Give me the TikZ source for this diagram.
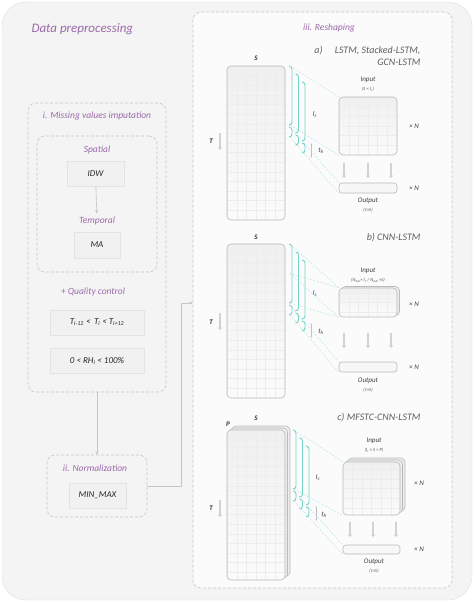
\documentclass[tikz,border=0pt]{standalone}
\usepackage{fontspec}
\setmainfont{Carlito}
\usepackage{xcolor}
\usepackage{tikz}
\definecolor{prepurple}{RGB}{155, 105, 170}
\definecolor{preteal}{RGB}{115, 210, 200}
\definecolor{pregray}{RGB}{95, 95, 95}
\usetikzlibrary{arrows.meta,positioning,calc,shadows}

\begin{document}
\begin{tikzpicture}[x=1pt, y=-1pt, every node/.style={font=\itshape}]
    % Define styles
    \tikzstyle{title} = [text=prepurple, font=\fontsize{9.5}{11}\selectfont\itshape]
    \tikzstyle{frame} = [rectangle, draw=gray!45, dash pattern=on 3pt off 2pt, rounded corners=8pt, line width=0.6pt]
    \tikzstyle{method} = [rectangle, draw=gray!22, fill=gray!11, inner sep=0pt, text=black!85,
                          font=\fontsize{9}{11}\selectfont\itshape,
                          drop shadow={opacity=0.12, shadow xshift=0.8pt, shadow yshift=-0.8pt}]
    \tikzstyle{grid box} = [rectangle, draw=gray!55, top color=gray!12, bottom color=gray!3, rounded corners=4pt,
                            inner sep=0pt, line width=0.6pt,
                            path picture={\draw[gray!14, line width=0.3pt, step=9.6pt]
                            (path picture bounding box.south west) grid (path picture bounding box.north east);}]
    \tikzstyle{layer box} = [rectangle, draw=gray!55, fill=gray!14, rounded corners=4pt, inner sep=0pt, line width=0.6pt]
    \tikzstyle{out box} = [rectangle, draw=gray!55, fill=gray!6, rounded corners=3pt, inner sep=0pt, line width=0.6pt,
                           minimum height=10pt]
    \tikzstyle{label} = [text=black!75, font=\fontsize{7}{8}\selectfont\itshape, inner sep=0.5pt]
    \tikzstyle{axis} = [text=black!80, font=\fontsize{7}{8}\selectfont\bfseries\itshape, inner sep=0.5pt]
    \tikzstyle{dim} = [text=black!70, font=\fontsize{4.5}{5}\selectfont\itshape, inner sep=0.5pt]
    \tikzstyle{model} = [text=pregray, font=\fontsize{10}{12}\selectfont\itshape, align=right, anchor=east]
    \tikzstyle{bracket} = [preteal, line width=0.9pt]
    \tikzstyle{map} = [preteal!60, line width=0.4pt, dash pattern=on 2pt off 1.5pt]
    \tikzstyle{flow} = [-{Triangle[length=2.5pt, width=4.5pt]}, line width=2pt, gray!35]
    \tikzstyle{link} = [-{Stealth[length=3.5pt, width=3pt]}, gray!45, line width=0.6pt]

    \useasboundingbox (0,0) rectangle (474,602);

    % Background
    \node[rectangle, draw=gray!25, fill=gray!9, rounded corners=24pt, minimum width=470pt, minimum height=598pt]
        (sheet) at (237,301) {};
    \node[frame, fill=gray!3, minimum width=259pt, minimum height=576pt] (reshape) at (322.5,300) {};
    \node[anchor=west, text=prepurple, font=\fontsize{13}{15}\selectfont\itshape] (prep) at (28,29) {Data preprocessing};

    % i. Missing values imputation
    \node[frame, minimum width=138pt, minimum height=289pt] (imput) at (97,247.5) {};
    \node[title] (imputtitle) at (97,116) {i. Missing values imputation};
    \node[frame, minimum width=120pt, minimum height=136pt] (fill) at (97,204) {};
    \node[title] (spatial) at (97,150) {Spatial};
    \node[method, minimum width=57pt, minimum height=25pt] (idw) at (95.5,173.5) {IDW};
    \node[title] (temporal) at (97,221) {Temporal};
    \node[method, minimum width=46pt, minimum height=26pt] (ma) at (97,245) {MA};
    \node[title] (quality) at (93,292) {+ Quality control};
    \node[method, minimum width=94pt, minimum height=25pt] (trange) at (97,322.5)
        {T\textsubscript{i-12} <\, T\textsubscript{i} < T\textsubscript{i+12}};
    \node[method, minimum width=94pt, minimum height=25pt] (rhrange) at (97,360.5)
        {0 < RH\textsubscript{i} < 100\%};

    % ii. Normalization
    \node[frame, minimum width=100pt, minimum height=62pt] (norm) at (97,486) {};
    \node[title] (normtitle) at (95,468) {ii. Normalization};
    \node[method, minimum width=57pt, minimum height=25pt] (minmax) at (97.5,495.5) {MIN\_MAX};

    % iii. Reshaping
    \node[title] (reshapetitle) at (329,28) {iii. Reshaping};
    \coordinate (entry) at (193,303);

    % Connectors
    \draw[link] (idw) -- (temporal);
    \draw[link] (imput) -- (norm);
    \draw[link] (norm.east) -- ++(34,0) |- (entry);

    % a) LSTM, Stacked-LSTM, GCN-LSTM
    \node[model] (modela) at (424,56) {a)\quad\ LSTM, Stacked-LSTM,\\GCN-LSTM};
    \node[grid box, minimum width=58pt, minimum height=154pt] (matA) at (256,143) {};
    \node[axis] (sA) at (256,58) {S};
    \node[axis] (tA) at (211,141) {T};
    \draw[flow] (220,133) -- (220,150);
    \foreach \k in {0,1,2} {
        \pgfmathsetmacro{\bx}{292+6.5*\k}
        \pgfmathsetmacro{\bt}{66+8*\k}
        \draw[bracket] ({\bx-3},\bt) to[out=0,in=90] (\bx,{\bt+3}) -- (\bx,{\bt+56}) to[out=-90,in=0] ({\bx-3},{\bt+59});
        \draw[bracket] ({\bx-3},{\bt+61}) to[out=0,in=90] (\bx,{\bt+64}) -- (\bx,{\bt+68}) to[out=-90,in=0] ({\bx-3},{\bt+71});
    }
    \coordinate (a-in-top) at (290,66);
    \coordinate (a-in-bot) at (290,125);
    \coordinate (a-out-top) at (290,127);
    \coordinate (a-out-bot) at (290,137);
    \node[label] (lsA) at (315,115) {l\textsubscript{s}};
    \draw[<->, >={Stealth[length=1.5pt]}, gray!50, line width=0.4pt] (311,143) -- (311,158);
    \node[label] (thA) at (321,151) {t\textsubscript{h}};
    \node[grid box, minimum width=58pt, minimum height=58pt] (inA) at (368,126) {};
    \node[label] (inAlab) at (368,80) {Input};
    \node[dim] (inAdim) at (368,89) {(S × l\textsubscript{s})};
    \node[label] (nA1) at (414,126) {× N};
    \foreach \x in {344,368,391} \draw[flow] (\x,163) -- (\x,178);
    \node[out box, minimum width=58pt] (outA) at (368,188) {};
    \node[label] (nA2) at (414,188) {× N};
    \node[label] (outAlab) at (368,201) {Output};
    \node[dim] (outAdim) at (368,210) {(1×S)};
    \draw[map] (a-in-top) -- (inA.north west);
    \draw[map] (a-in-bot) -- (inA.south west);
    \draw[map] (a-out-top) -- (outA.north west);
    \draw[map] (a-out-bot) -- (outA.south west);

    % b) CNN-LSTM
    \node[model] (modelb) at (424,238) {b) CNN-LSTM};
    \node[grid box, minimum width=58pt, minimum height=154pt] (matB) at (256,321) {};
    \node[axis] (sB) at (256,237) {S};
    \node[axis] (tB) at (211,322) {T};
    \draw[flow] (220,313) -- (220,330);
    \foreach \k in {0,1,2} {
        \pgfmathsetmacro{\bx}{292+6.5*\k}
        \pgfmathsetmacro{\bt}{244+8*\k}
        \draw[bracket] ({\bx-3},\bt) to[out=0,in=90] (\bx,{\bt+3}) -- (\bx,{\bt+56}) to[out=-90,in=0] ({\bx-3},{\bt+59});
        \draw[bracket] ({\bx-3},{\bt+61}) to[out=0,in=90] (\bx,{\bt+64}) -- (\bx,{\bt+68}) to[out=-90,in=0] ({\bx-3},{\bt+71});
    }
    \coordinate (b-in-top) at (290,244);
    \coordinate (b-in-mid) at (290,273.5);
    \coordinate (b-in-bot) at (290,303);
    \coordinate (b-out-top) at (290,305);
    \coordinate (b-out-bot) at (290,315);
    \node[label] (lsB) at (315,294) {l\textsubscript{s}};
    \draw[<->, >={Stealth[length=1.5pt]}, gray!50, line width=0.4pt] (311,323) -- (311,338);
    \node[label] (thB) at (321,332) {t\textsubscript{h}};
    \node[layer box, minimum width=58pt, minimum height=29pt] (inB1) at (370.5,301) {};
    \node[grid box, minimum width=58pt, minimum height=29pt] (inB) at (368,302.5) {};
    \node[label] (inBlab) at (368,271) {Input};
    \node[dim] (inBdim) at (368,280)
        {(N\textsubscript{sub}× l\textsubscript{s} / N\textsubscript{sub} ×S)};
    \node[label] (nB1) at (414,304) {× N};
    \foreach \x in {344,368,391} \draw[flow] (\x,333) -- (\x,348);
    \node[out box, minimum width=58pt] (outB) at (368,367) {};
    \node[label] (nB2) at (414,367) {× N};
    \node[label] (outBlab) at (368,381) {Output};
    \node[dim] (outBdim) at (368,390) {(1×S)};
    \draw[map] (b-in-top) -- (inB.north west);
    \draw[map] (b-in-mid) -- (inB.north west);
    \draw[map] (b-in-mid) -- (inB.south west);
    \draw[map] (b-in-bot) -- (inB.south west);
    \draw[map] (b-out-top) -- (outB.north west);
    \draw[map] (b-out-bot) -- (outB.south west);

    % c) MFSTC-CNN-LSTM
    \node[model] (modelc) at (424,418) {c) MFSTC-CNN-LSTM};
    \node[layer box, minimum width=58pt, minimum height=150pt] (matC2) at (261,501) {};
    \node[layer box, minimum width=58pt, minimum height=150pt] (matC1) at (258.5,503) {};
    \node[grid box, minimum width=58pt, minimum height=150pt] (matC) at (256,505) {};
    \node[axis] (pC) at (228,424) {P};
    \node[axis] (sC) at (256,418) {S};
    \node[axis] (tC) at (211,508) {T};
    \draw[flow] (220,500) -- (220,517);
    \foreach \k in {0,1,2} {
        \pgfmathsetmacro{\bx}{296+6.5*\k}
        \pgfmathsetmacro{\bt}{430+8*\k}
        \draw[bracket] ({\bx-3},\bt) to[out=0,in=90] (\bx,{\bt+3}) -- (\bx,{\bt+56}) to[out=-90,in=0] ({\bx-3},{\bt+59});
        \draw[bracket] ({\bx-3},{\bt+61}) to[out=0,in=90] (\bx,{\bt+64}) -- (\bx,{\bt+68}) to[out=-90,in=0] ({\bx-3},{\bt+71});
    }
    \coordinate (c-in-top) at (294,430);
    \coordinate (c-in-bot) at (294,489);
    \coordinate (c-out-top) at (294,491);
    \coordinate (c-out-bot) at (294,501);
    \node[label] (lsC) at (318,478) {l\textsubscript{s}};
    \draw[<->, >={Stealth[length=1.5pt]}, gray!50, line width=0.4pt] (316,506) -- (316,521);
    \node[label] (thC) at (324,515) {t\textsubscript{h}};
    \node[layer box, minimum width=57pt, minimum height=53pt] (inC2) at (376.5,484.5) {};
    \node[layer box, minimum width=57pt, minimum height=53pt] (inC1) at (374,486.5) {};
    \node[grid box, minimum width=57pt, minimum height=53pt] (inC) at (371.5,488.5) {};
    \node[label] (inClab) at (374,441) {Input};
    \node[dim] (inCdim) at (374,450) {(l\textsubscript{s} × S × P)};
    \node[label] (nC1) at (419,483) {× N};
    \foreach \x in {350,373,396} \draw[flow] (\x,522) -- (\x,537);
    \node[out box, minimum width=57pt, minimum height=9pt] (outC) at (371.5,549.5) {};
    \node[label] (nC2) at (419,549) {× N};
    \node[label] (outClab) at (374,562) {Output};
    \node[dim] (outCdim) at (374,571) {(1×S)};
    \draw[map] (c-in-top) -- (inC.north west);
    \draw[map] (c-in-bot) -- (inC.south west);
    \draw[map] (c-out-top) -- (outC.north west);
    \draw[map] (c-out-bot) -- (outC.south west);
\end{tikzpicture}
\end{document}
